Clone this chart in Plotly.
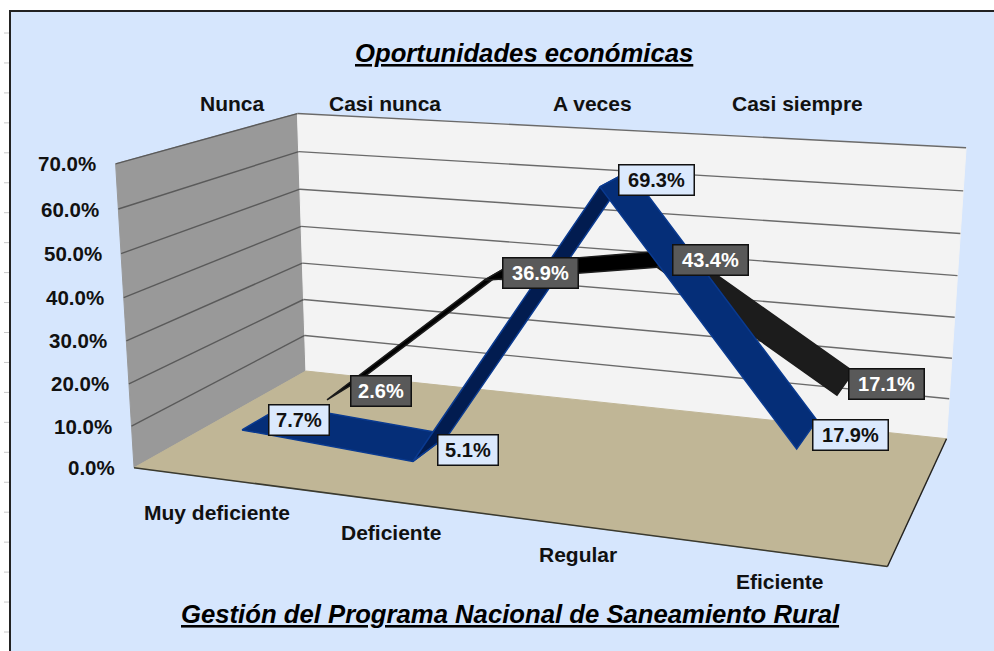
import numpy as np
import plotly.graph_objects as go

# ---------- data ----------
CATEGORIES = ["Muy deficiente", "Deficiente", "Regular", "Eficiente"]
SERIES_BLUE = [7.7, 5.1, 69.3, 17.9]
SERIES_BLACK = [2.6, 36.9, 43.4, 17.1]
VALUE_TICKS = [0, 10, 20, 30, 40, 50, 60, 70]
TOP_LABELS = ["Nunca", "Casi nunca", "A veces", "Casi siempre"]
TITLE = "Oportunidades económicas"
XTITLE = "Gestión del Programa Nacional de Saneamiento Rural"

# ---------- oblique 3-D view of the box (category, depth, value) onto the page ----------
BOX = [((0,0,0),(135,468)),((0,0,1),(115,163)),((0,1,0),(305,371)),((0,1,1),(298,114)),
       ((1,1,0),(947,438)),((1,1,1),(966,148)),((1,0,0),(887,567))]
A = []
for (X,Y,Z),(u,v) in BOX:
    A.append([X,Y,Z,1,0,0,0,0,-u*X,-u*Y,-u*Z,-u])
    A.append([0,0,0,0,X,Y,Z,1,-v*X,-v*Y,-v*Z,-v])
P = np.linalg.svd(np.array(A,float))[2][-1].reshape(3,4)
VMAX = 70.0
def proj(cat, depth, val):
    """cat in category units (0..3 are the points), depth 0..1, val in %"""
    h = P @ np.array([(cat+0.5)/len(CATEGORIES), depth, val/VMAX, 1.0])
    return h[0]/h[2], h[1]/h[2]

fig = go.Figure()
def poly(corners, fill, line=None, lw=1.0):
    pts = [proj(*c) for c in corners] + [proj(*corners[0])]
    fig.add_trace(go.Scatter(x=[p[0] for p in pts], y=[p[1] for p in pts], mode="lines", fill="toself",
                             fillcolor=fill, line=dict(color=line or fill, width=lw), hoverinfo="skip", showlegend=False))
def seg(a, b, color, lw=1.4):
    p, q = proj(*a), proj(*b)
    fig.add_trace(go.Scatter(x=[p[0],q[0]], y=[p[1],q[1]], mode="lines", line=dict(color=color,width=lw),
                             hoverinfo="skip", showlegend=False))

L, R = -0.5, 3.5
poly([(L,0,0),(L,1,0),(L,1,VMAX),(L,0,VMAX)], "#999999")
poly([(L,1,0),(R,1,0),(R,1,VMAX),(L,1,VMAX)], "#f3f3f3")
poly([(L,0,0),(R,0,0),(R,1,0),(L,1,0)], "#c0b696")
seg((L,0,0),(R,0,0),"#3a3a30",1.6)
seg((R,0,0),(R,1,0),"#222222",1.4)
for v in VALUE_TICKS[1:]:
    seg((L,0,v),(L,1,v),"#5a5a5a")
    seg((L,1,v),(R,1,v),"#6a6a6a")

def ribbon(vals, d0, d1, top, under, edge):
    for i in range(len(vals)-1):
        rising = vals[i+1] > vals[i] + 5
        poly([(i,d0,vals[i]),(i+1,d0,vals[i+1]),(i+1,d1,vals[i+1]),(i,d1,vals[i])],
             under if rising else top, edge, 1.5)
ribbon(SERIES_BLACK, 0.65, 0.89, "#1c1c1c", "#000000", "#1c1c1c")
ribbon(SERIES_BLUE, 0.145, 0.385, "#052e78", "#021c50", "#0a3a90")

LBL = dict(showarrow=False, xref="x", yref="y", xanchor="center", yanchor="middle")
FONT = "Liberation Sans, Arial, sans-serif"
def data_labels(vals, depth, shifts, bg, fg):
    for i, v in enumerate(vals):
        x, y = proj(i, depth, v)
        txt = f"{v:.1f}%"
        fig.add_annotation(x=x, y=y, text=f"<b>{txt}</b>", xshift=shifts[i][0], yshift=shifts[i][1],
                           width=len(txt)*15-1, height=29, bgcolor=bg, bordercolor="#111111", borderwidth=1.5,
                           borderpad=0, font=dict(family=FONT,size=20,color=fg), **LBL)
data_labels(SERIES_BLUE, 0.29, [(31,-5),(33,-5),(38,-3),(41,-4)], "#dbe9fd", "#111111")
data_labels(SERIES_BLACK, 0.73, [(42,2),(46,1),(45,1),(44,3)], "#595959", "#ffffff")

for v in VALUE_TICKS:
    x, y = proj(L, 0, v)
    fig.add_annotation(x=x-17.5, y=y, text=f"<b>{v:.1f}%</b>", font=dict(family=FONT,size=20.5,color="#111111"),
                       showarrow=False, xref="x", yref="y", xanchor="right", yanchor="middle")
CAT_OFFSET = [(1,34),(1,31),(1,29),(0,29)]
for i, c in enumerate(CATEGORIES):
    x, y = proj(i, 0, 0)
    fig.add_annotation(x=x+CAT_OFFSET[i][0], y=y+CAT_OFFSET[i][1], text=f"<b>{c}</b>",
                       font=dict(family=FONT,size=21,color="#111111"), **LBL)
for txt, x in zip(TOP_LABELS, [232, 385, 592, 797]):
    fig.add_annotation(x=x, y=103, text=f"<b>{txt}</b>", font=dict(family=FONT,size=21,color="#111111"), **LBL)
fig.add_annotation(x=524, y=53, text=f"<b><i><u>{TITLE}</u></i></b>", font=dict(family=FONT,size=25.7,color="#000000"), **LBL)
fig.add_annotation(x=510, y=614, text=f"<b><i><u>{XTITLE}</u></i></b>", font=dict(family=FONT,size=25.7,color="#000000"), **LBL)

shapes = [dict(type="rect", xref="x", yref="y", x0=10, x1=1100, y0=11, y1=800, fillcolor="#d6e6fd",
               line=dict(color="#222222", width=2), layer="below")]
for k in range(21):
    yy = 33 + 29.95*k
    shapes.append(dict(type="line", xref="x", yref="y", x0=4, x1=9, y0=yy, y1=yy, line=dict(color="#c8c8c8", width=1)))
fig.update_layout(width=994, height=651, margin=dict(l=0,r=0,t=0,b=0), paper_bgcolor="#ffffff", plot_bgcolor="rgba(0,0,0,0)",
                  xaxis=dict(range=[0,994], visible=False, fixedrange=True),
                  yaxis=dict(range=[651,0], visible=False, fixedrange=True),
                  shapes=shapes, showlegend=False)
fig.write_html("out.html", config=dict(displayModeBar=False),
               post_script="document.body.style.margin='0';document.body.style.overflow='hidden';")
